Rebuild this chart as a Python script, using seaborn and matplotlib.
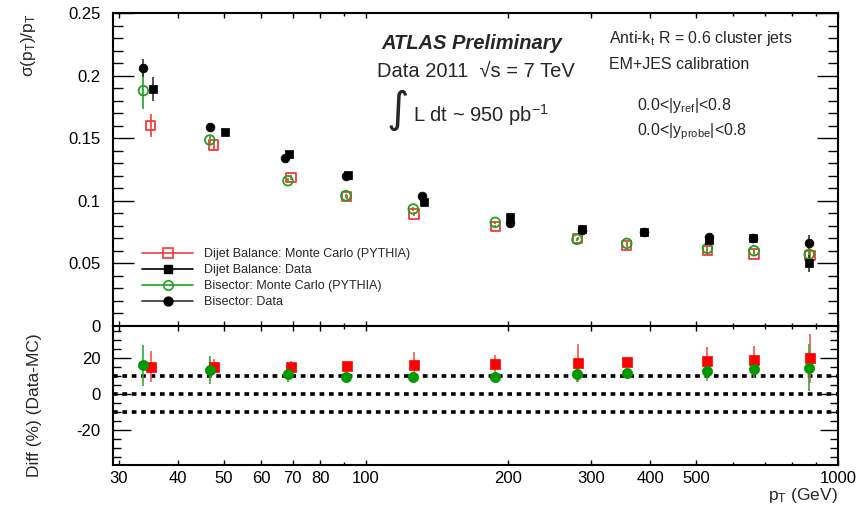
import numpy as np
import pandas as pd
import matplotlib
matplotlib.use("Agg")
import matplotlib.pyplot as plt
from matplotlib.lines import Line2D
from matplotlib.ticker import FixedLocator, FixedFormatter, NullFormatter, MultipleLocator
import seaborn as sns

# ---------------- data ----------------
pt_bis_mc = [33.8, 46.7, 68.4, 90.7, 126.0, 188.0, 280.0, 357.0, 529.0, 664.0, 869.0]
pt_bis_data = [33.8, 46.7, 67.4, 90.7, 131.3, 202.0, 287.0, 389.0, 532.0, 662.0, 869.0]
pt_dj_mc = [35.0, 47.6, 69.4, 91.0, 126.5, 188.0, 281.0, 357.0, 529.0, 664.0, 872.0]
pt_dj_data = [35.4, 50.4, 68.8, 91.6, 132.5, 202.0, 287.0, 389.0, 532.0, 662.0, 869.0]

res_bis_data = [0.206, 0.159, 0.134, 0.1195, 0.104, 0.082, 0.0767, 0.0750, 0.0709, 0.0705, 0.066]
res_bis_mc = [0.188, 0.1486, 0.116, 0.1041, 0.0935, 0.0828, 0.0692, 0.066, 0.062, 0.0601, 0.0573]
res_dj_data = [0.189, 0.155, 0.137, 0.1206, 0.0994, 0.0873, 0.0775, 0.0754, 0.0687, 0.0700, 0.050]
res_dj_mc = [0.160, 0.1446, 0.1185, 0.1033, 0.0895, 0.0793, 0.0700, 0.0642, 0.0600, 0.0575, 0.056]

err_bis_data = [0.0075, 0.002, 0.002, 0.0015, 0.0015, 0.0015, 0.0015, 0.0015, 0.002, 0.002, 0.0066]
err_bis_mc = [0.0145, 0.004, 0.002, 0.0015, 0.0015, 0.001, 0.001, 0.001, 0.0015, 0.0015, 0.003]
err_dj_data = [0.0095, 0.002, 0.002, 0.0015, 0.002, 0.0015, 0.0015, 0.0015, 0.002, 0.002, 0.0065]
err_dj_mc = [0.009, 0.004, 0.002, 0.0015, 0.0015, 0.001, 0.001, 0.001, 0.0015, 0.0015, 0.003]

diff_dj = [15.1, 15.1, 15.1, 15.5, 16.0, 16.4, 17.3, 17.7, 18.4, 18.8, 19.7]
diff_dj_err = [8.7, 4.0, 3.0, 2.0, 7.0, 5.0, 10.5, 1.0, 7.5, 8.0, 13.5]
diff_bis = [16.0, 13.3, 10.9, 9.6, 9.2, 9.6, 10.9, 11.4, 12.9, 13.8, 14.5]
diff_bis_err = [11.3, 8.0, 4.0, 2.0, 2.5, 2.0, 4.0, 1.0, 5.5, 5.0, 13.0]

ref_lines = [10, 0, -10]

xtick_vals = [30, 40, 50, 60, 70, 80, 100, 200, 300, 400, 500, 1000]
xtick_labels = ["30", "40", "50", "60", "70", "80", "100", "200", "300", "400", "500", "1000"]
xminor_vals = [90, 600, 700, 800, 900]
ytop_vals = [0, 0.05, 0.1, 0.15, 0.2, 0.25]
ytop_labels = ["0", "0.05", "0.1", "0.15", "0.2", "0.25"]
ybot_vals = [-20, 0, 20]
ybot_labels = ["-20", "0", "20"]

legend_labels = ["Dijet Balance: Monte Carlo (PYTHIA)", "Dijet Balance: Data",
                 "Bisector: Monte Carlo (PYTHIA)", "Bisector: Data"]

# ---------------- style ----------------
sns.set_style("ticks")
plt.rcParams['font.family'] = ['Liberation Sans', 'DejaVu Sans']
plt.rcParams['mathtext.fontset'] = 'custom'
plt.rcParams['mathtext.rm'] = 'Liberation Sans'
plt.rcParams['mathtext.it'] = 'Liberation Sans:italic'
plt.rcParams['mathtext.bf'] = 'Liberation Sans:bold'
plt.rcParams['mathtext.sf'] = 'Liberation Sans'

RED_OPEN = '#f23a3a'
GREEN_OPEN = '#22a022'
RED_FILL = '#ff0000'
GREEN_FILL = '#009900'

W, H = 859, 505
fig = plt.figure(figsize=(W / 100, H / 100), dpi=100)
L, R = 113, 838
ax1 = fig.add_axes([L / W, 1 - 326 / H, (R - L) / W, (326 - 13) / H])
ax2 = fig.add_axes([L / W, 1 - 465 / H, (R - L) / W, (465 - 326) / H])

# ---------------- drawing helper ----------------
def draw(ax, x, y, e, color, marker, open_marker, s, ecolor=None, elw=1.2):
    ax.errorbar(x, y, yerr=e, fmt='none', ecolor=ecolor or color, elinewidth=elw, capsize=0, zorder=2)
    if open_marker:
        sns.scatterplot(x=x, y=y, ax=ax, marker=marker, s=s, facecolors='none',
                        edgecolor=color, linewidth=1.3, legend=False, zorder=3)
    else:
        sns.scatterplot(x=x, y=y, ax=ax, marker=marker, s=s, color=color,
                        edgecolor=color, linewidth=0.5, legend=False, zorder=4)

# ---------------- top panel ----------------
draw(ax1, pt_dj_mc, res_dj_mc, err_dj_mc, RED_OPEN, 's', True, 44)
draw(ax1, pt_bis_mc, res_bis_mc, err_bis_mc, GREEN_OPEN, 'o', True, 48)
draw(ax1, pt_dj_data, res_dj_data, err_dj_data, 'black', 's', False, 38, ecolor='#333333')
draw(ax1, pt_bis_data, res_bis_data, err_bis_data, 'black', 'o', False, 40, ecolor='#333333')
ax1.set_ylim(0, 0.25)

# ---------------- bottom panel ----------------
for yv in ref_lines:
    ax2.axhline(yv, color='black', lw=2.6, linestyle=(0, (1.3, 1.3)), zorder=1)
draw(ax2, pt_dj_mc, diff_dj, diff_dj_err, RED_FILL, 's', False, 50, ecolor='#ff5050')
draw(ax2, pt_bis_mc, diff_bis, diff_bis_err, GREEN_FILL, 'o', False, 55, ecolor='#33aa33')
ax2.set_ylim(-39.2, 37.6)

# ---------------- axes cosmetics ----------------
for ax in (ax1, ax2):
    ax.set_xscale('log')
    ax.set_xlim(29.14, 1000)
    ax.xaxis.set_major_locator(FixedLocator(xtick_vals))
    ax.xaxis.set_minor_locator(FixedLocator(xminor_vals))
    ax.xaxis.set_minor_formatter(NullFormatter())
    ax.set_xlabel('')
    ax.set_ylabel('')
    for sp in ax.spines.values():
        sp.set_visible(True)
        sp.set_linewidth(1.5)
        sp.set_color('black')
    ax.tick_params(which='both', direction='in', top=True, right=True,
                   color='black', width=1.0, labelsize=12, labelcolor='black')
    ax.tick_params(axis='x', which='major', length=3.5, pad=4)
    ax.tick_params(axis='x', which='minor', length=2.5)
    ax.set_facecolor('white')

ax1.xaxis.set_major_formatter(NullFormatter())
ax2.xaxis.set_major_formatter(FixedFormatter(xtick_labels))

ax1.yaxis.set_major_locator(FixedLocator(ytop_vals))
ax1.yaxis.set_major_formatter(FixedFormatter(ytop_labels))
ax1.yaxis.set_minor_locator(MultipleLocator(0.01))
ax1.tick_params(axis='y', which='major', length=15, pad=9)
ax1.tick_params(axis='y', which='minor', length=7.5)

ax2.yaxis.set_major_locator(FixedLocator(ybot_vals))
ax2.yaxis.set_major_formatter(FixedFormatter(ybot_labels))
ax2.yaxis.set_minor_locator(MultipleLocator(5))
ax2.tick_params(axis='y', which='major', length=13, pad=9)
ax2.tick_params(axis='y', which='minor', length=6)

# ---------------- legend ----------------
handles = [
    Line2D([], [], color=RED_OPEN, lw=1.2, marker='s', ms=6.6, mfc='none', mec=RED_OPEN, mew=1.2),
    Line2D([], [], color='black', lw=1.2, marker='s', ms=6.2, mfc='black', mec='black'),
    Line2D([], [], color=GREEN_OPEN, lw=1.2, marker='o', ms=6.8, mfc='none', mec=GREEN_OPEN, mew=1.2),
    Line2D([], [], color='#333333', lw=1.2, marker='o', ms=6.4, mfc='black', mec='black'),
]
fig.legend(handles, legend_labels, loc='upper left', bbox_to_anchor=(142 / W, 1 - 248 / H),
           bbox_transform=fig.transFigure, frameon=False, fontsize=9, handlelength=4.1,
           handletextpad=0.9, labelspacing=0.32, borderpad=0, borderaxespad=0)

# ---------------- texts ----------------
def ft(px, py, s, **kw):
    fig.text(px / W, 1 - py / H, s, **kw)

ft(472, 49.3, 'ATLAS Preliminary', ha='center', va='baseline', fontsize=14.5,
   fontweight='bold', fontstyle='italic')
ft(476, 76.7, 'Data 2011  \u221as = 7 TeV', ha='center', va='baseline', fontsize=14.5)
ft(398, 110, '\u222b', ha='center', va='center', fontsize=31, family=['DejaVu Sans'])
ft(413, 121.7, r'L dt ~ 950 pb$^{\mathrm{-1}}$', ha='left', va='baseline', fontsize=14.5)

ft(609, 43.3, r'Anti-k$_{\mathrm{t}}$ R = 0.6 cluster jets', ha='left', va='baseline', fontsize=11.5)
ft(609, 69, 'EM+JES calibration', ha='left', va='baseline', fontsize=11.5)
ft(637, 110, r'0.0<|y$_{\mathrm{ref}}$|<0.8', ha='left', va='baseline', fontsize=11.5)
ft(637, 135, r'0.0<|y$_{\mathrm{probe}}$|<0.8', ha='left', va='baseline', fontsize=11.5)

ft(29, 45, '\u03c3(p$_{\\mathrm{T}}$)/p$_{\\mathrm{T}}$',
   ha='center', va='center', rotation=90, fontsize=12.5)
ft(35, 405, 'Diff (%) (Data-MC)', ha='center', va='center', rotation=90, fontsize=12.5)
ft(838, 500, r'p$_{\mathrm{T}}$ (GeV)', ha='right', va='baseline', fontsize=12.5)

fig.savefig('out.png', dpi=100, facecolor='white')
